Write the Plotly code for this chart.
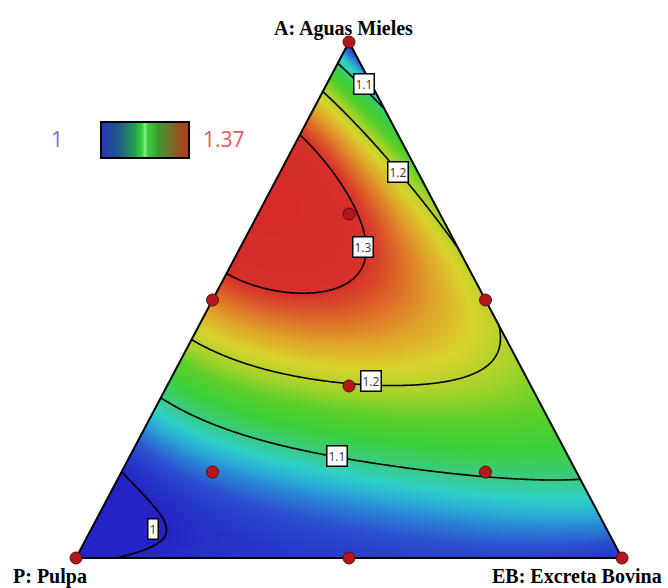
import numpy as np
import plotly.graph_objects as go

# ---------------- data ----------------
components = ["A: Aguas Mieles", "P: Pulpa", "EB: Excreta Bovina"]

# design points (mixture proportions)
design_A = [1, 0, 0, 0.5, 0.5, 0, 1/3, 2/3, 1/6, 1/6]
design_P = [0, 1, 0, 0.5, 0, 0.5, 1/3, 1/6, 2/3, 1/6]
design_EB = [0, 0, 1, 0, 0.5, 0.5, 1/3, 1/6, 1/6, 2/3]

# response readings (composition A, EB -> value)
obs_A = [1.0, 0.0, 0.0,
         0.138, 0.319, 0.435, 0.500, 0.542, 0.690, 0.823, 0.891, 0.952,
         0.849, 0.572, 0.520, 0.467, 0.157,
         0.0, 0.0, 0.0, 0.0,
         0.9186, 0.748, 0.700,
         0.7455, 0.6667, 0.6027, 0.5742, 0.5194, 0.5226, 0.694, 0.600,
         0.450, 0.500,
         0.3333, 0.372, 0.3217, 0.345, 0.4167,
         0.2738, 0.2422, 0.1977, 0.1641, 0.1667, 0.1667,
         0.0736, 0.0562, 0.0219]
obs_EB = [0.0, 0.0, 1.0,
          0.0, 0.0, 0.0, 0.0, 0.0, 0.0, 0.0, 0.0, 0.0,
          0.151, 0.428, 0.480, 0.533, 0.843,
          0.117, 0.300, 0.500, 0.750,
          0.0682, 0.2157, 0.2923,
          0.0925, 0.1667, 0.2242, 0.2362, 0.2178, 0.1123, 0.036, 0.100,
          0.300, 0.400,
          0.3333, 0.151, 0.4875, 0.5675, 0.574,
          0.1085, 0.2159, 0.3792, 0.5663, 0.6667, 0.1667,
          0.0865, 0.1129, 0.1369]
obs_value = [1.02, 0.985, 1.01,
             1.00, 1.10, 1.20, 1.26, 1.30, 1.35, 1.30, 1.20, 1.10,
             1.10, 1.20, 1.205, 1.20, 1.10,
             1.00, 1.01, 1.02, 1.02,
             1.10, 1.20, 1.20,
             1.30, 1.30, 1.30, 1.30, 1.30, 1.30, 1.37, 1.35,
             1.26, 1.24,
             1.20, 1.20, 1.20, 1.20, 1.20,
             1.10, 1.10, 1.10, 1.10, 1.10, 1.055,
             1.00, 1.00, 1.00]

contour_levels = [1.0, 1.1, 1.2, 1.3]
color_min, color_max = 1.0, 1.37
color_labels = ["1", "1.37"]

# ---------------- Scheffe mixture model fitted to the readings ----------------
def basis(A, P, E):
    return np.stack([A, P, E,
                     A * P, A * E, P * E,
                     A * P * (A - P), A * E * (A - E), P * E * (P - E),
                     A * P * E,
                     A * A * P * E, A * P * P * E, A * P * E * E,
                     A * P * (A - P) ** 2, A * E * (A - E) ** 2, P * E * (P - E) ** 2], axis=-1)

oA = np.array(obs_A); oE = np.array(obs_EB); oP = 1 - oA - oE
coef = np.linalg.lstsq(basis(oA, oP, oE), np.array(obs_value), rcond=None)[0]

# cartesian frame: P at (0,0), EB at (1,0), A at (0.5,1)
def to_xy(A, P, E):
    A = np.asarray(A, float); E = np.asarray(E, float)
    return E + A / 2, A

N = 361
gx = np.linspace(0, 1, N)
gy = np.linspace(0, 1, N)
GX, GY = np.meshgrid(gx, gy)
gA = np.clip(GY, 0, 1)
gE = np.clip(GX - GY / 2, 0, 1)
gP = np.clip(1 - GY - (GX - GY / 2), 0, 1)
s = gA + gE + gP
gA, gE, gP = gA / s, gE / s, gP / s
Z = basis(gA, gP, gE) @ coef

stops = [(1.00, "#2424c4"), (1.03, "#2b4fd0"), (1.06, "#2aa6d8"), (1.08, "#2fd2c8"),
         (1.10, "#3acb84"), (1.13, "#3bcf3c"), (1.16, "#5ad02a"), (1.19, "#a6d22a"),
         (1.22, "#d8d22b"), (1.25, "#e0a22a"), (1.28, "#dc5e28"), (1.30, "#d6302a"),
         (1.37, "#d42a2a")]
colorscale = [[(v - color_min) / (color_max - color_min), c] for v, c in stops]

# colour key as it appears in the small legend box
bar_scale = [[0.0, "#2a36b8"], [0.2, "#1f5a8a"], [0.38, "#24a04a"], [0.47, "#3cd040"],
             [0.5, "#86f486"], [0.53, "#3cd040"], [0.65, "#3a9a30"], [0.8, "#7a6a28"],
             [1.0, "#b8361f"]]

fig = go.Figure()
fig.add_trace(go.Heatmap(
    x=gx, y=gy, z=Z, zauto=False, zmin=color_min, zmax=color_max,
    colorscale=colorscale, zsmooth="best", showscale=False, hoverinfo="skip"))
fig.add_trace(go.Contour(
    x=gx, y=gy, z=Z, autocontour=False, showscale=False,
    contours=dict(start=contour_levels[0], end=contour_levels[-1] + 0.01,
                  size=round(contour_levels[1] - contour_levels[0], 3),
                  coloring="lines", showlabels=False),
    colorscale=[[0, "black"], [1, "black"]],
    line=dict(color="black", width=1.6, smoothing=1),
    hoverinfo="skip",
))

# white masks outside the triangle
fig.add_trace(go.Scatter(x=[0, 0.5, 0.5, -0.02, -0.02, 0], y=[0, 1, 1.02, 1.02, -0.02, -0.02],
                         fill="toself", fillcolor="white", mode="none", hoverinfo="skip", showlegend=False))
fig.add_trace(go.Scatter(x=[1, 0.5, 0.5, 1.02, 1.02, 1], y=[0, 1, 1.02, 1.02, -0.02, -0.02],
                         fill="toself", fillcolor="white", mode="none", hoverinfo="skip", showlegend=False))
fig.add_trace(go.Scatter(x=[-0.02, 1.02, 1.02, -0.02], y=[0, 0, -0.02, -0.02],
                         fill="toself", fillcolor="white", mode="none", hoverinfo="skip", showlegend=False))

# triangle outline
fig.add_trace(go.Scatter(x=[0, 1, 0.5, 0], y=[0, 0, 1, 0], mode="lines",
                         line=dict(color="black", width=2), hoverinfo="skip", showlegend=False))

# design points
px_, py_ = to_xy(design_A, design_P, design_EB)
fig.add_trace(go.Scatter(x=px_, y=py_, mode="markers",
                         marker=dict(size=12, color="#b3191c", line=dict(color="#5a0a0a", width=1)),
                         hoverinfo="skip", showlegend=False))

# colour key (legend box)
fig.add_trace(go.Scatter(
    x=[px_[6]], y=[py_[6]], mode="markers", hoverinfo="skip", showlegend=False,
    marker=dict(size=1, opacity=0, color=[color_min], cmin=color_min, cmax=color_max,
                colorscale=bar_scale, showscale=True,
                colorbar=dict(orientation="h", lenmode="pixels", len=88, thickness=36,
                              x=145 / 668, xanchor="center", y=1 - 122 / 588, yanchor="top",
                              xpad=0, ypad=0, outlinecolor="black", outlinewidth=2,
                              showticklabels=False, ticks=""))))

# contour label boxes
label_pos = [(0.5275, 0.9186, "1.1"), (0.5897, 0.7481, "1.2"), (0.5256, 0.6027, "1.3"),
             (0.5394, 0.3421, "1.2"), (0.4780, 0.1977, "1.1"), (0.1410, 0.0562, "1")]
annotations = []
for x, y, t in label_pos:
    annotations.append(dict(x=x, y=y, xref="x", yref="y", text=t, showarrow=False,
                            font=dict(family="Open Sans", size=12, color="#333333"),
                            bgcolor="white", bordercolor="black", borderwidth=1.5, borderpad=1))

serif = dict(family="Liberation Serif", size=20, color="black")
annotations += [
    dict(x=343 / 668, y=1 - 28 / 588, xref="paper", yref="paper", text="<b>%s</b>" % components[0],
         showarrow=False, xanchor="center", yanchor="middle", font=serif),
    dict(x=11 / 668, y=1 - 576 / 588, xref="paper", yref="paper", text="<b>%s</b>" % components[1],
         showarrow=False, xanchor="left", yanchor="middle", font=serif),
    dict(x=664 / 668, y=1 - 576 / 588, xref="paper", yref="paper", text="<b>%s</b>" % components[2],
         showarrow=False, xanchor="right", yanchor="middle", font=serif),
    dict(x=57 / 668, y=1 - 139 / 588, xref="paper", yref="paper", text=color_labels[0],
         showarrow=False, xanchor="center", yanchor="middle",
         font=dict(family="Open Sans", size=21, color="#6f74d8")),
    dict(x=201 / 668, y=1 - 139 / 588, xref="paper", yref="paper", text=color_labels[1],
         showarrow=False, xanchor="left", yanchor="middle",
         font=dict(family="Open Sans", size=21, color="#e05a5a")),
]

fig.update_layout(
    width=668, height=588, margin=dict(l=0, r=0, t=0, b=0),
    paper_bgcolor="white", plot_bgcolor="white", showlegend=False,
    xaxis=dict(range=[-76 / 546, 592 / 546], visible=False, fixedrange=True),
    yaxis=dict(range=[-30 / 516, 558 / 516], visible=False, fixedrange=True),
    annotations=annotations,
)
fig.write_html("out.html")
